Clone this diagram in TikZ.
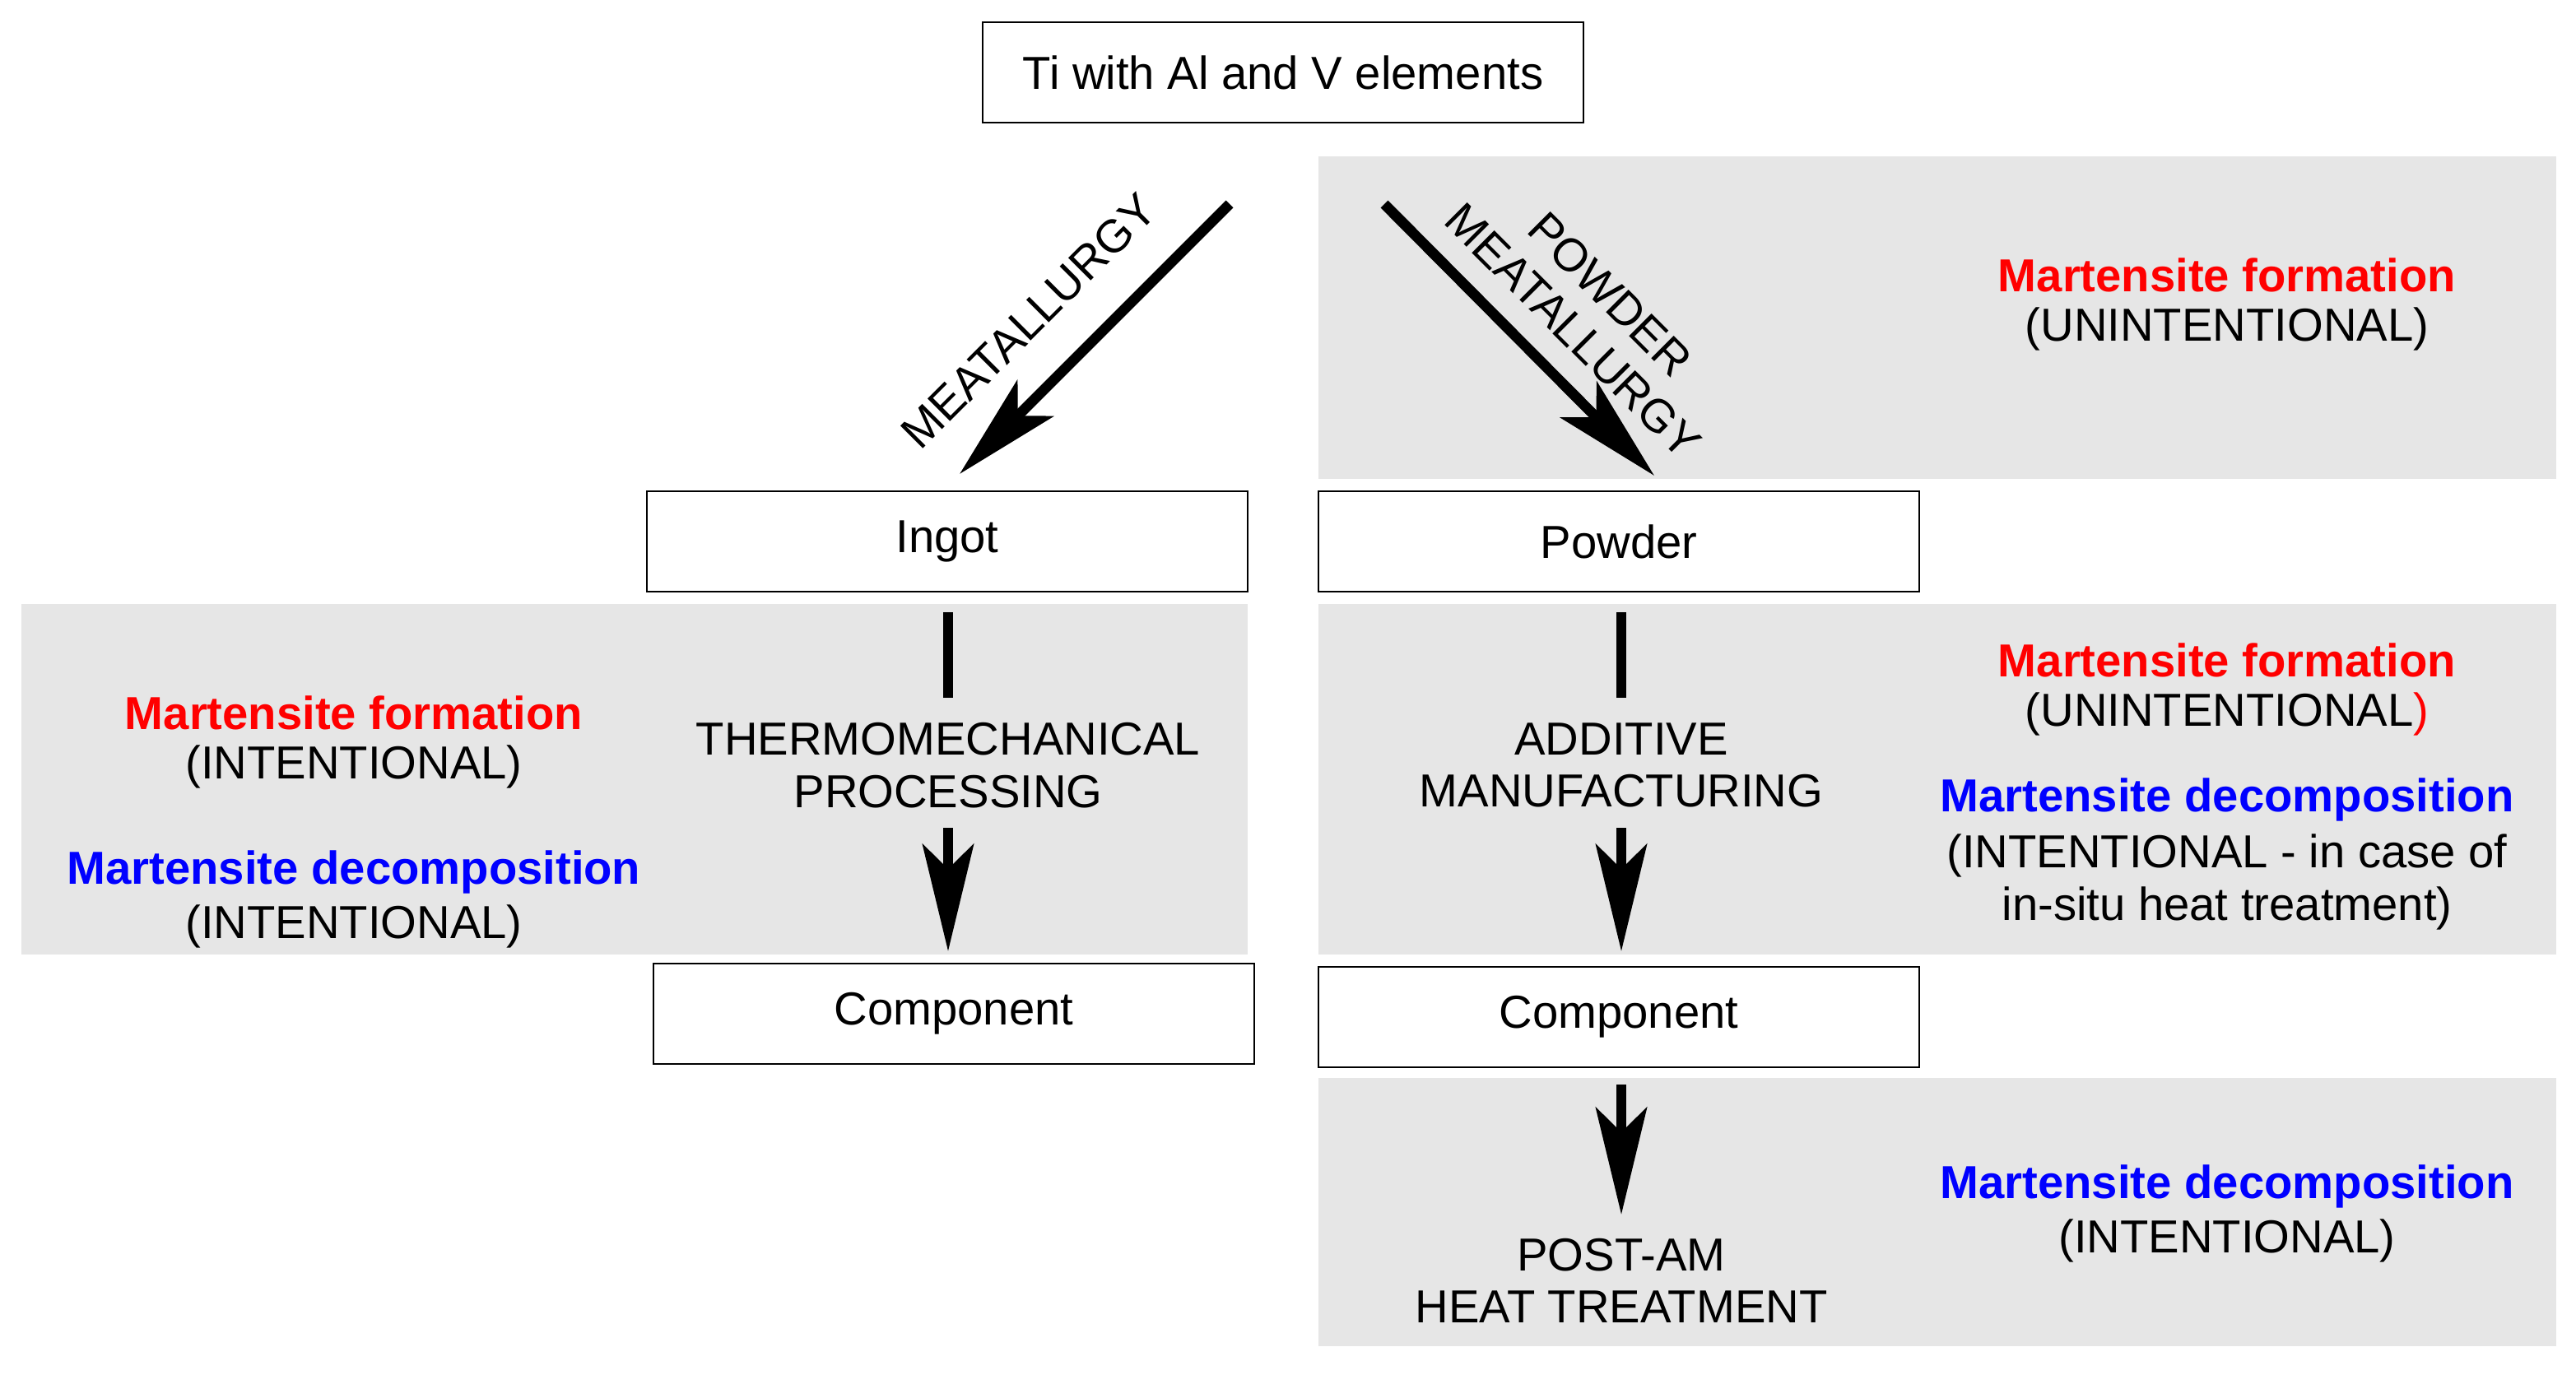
\documentclass[tikz,border=0pt]{standalone}
\usepackage{fontspec}
\setmainfont{Liberation Sans}
\usetikzlibrary{arrows.meta, positioning}

\definecolor{panelgray}{RGB}{230,230,230}
\definecolor{mred}{RGB}{255,0,0}
\definecolor{mblue}{RGB}{0,0,255}

\tikzset{
  stage/.style={draw, thick, minimum width=7.3cm, minimum height=1.22cm, font=\fontsize{16}{19}\selectfont},
  panel/.style={fill=panelgray},
  proc/.style={align=center, font=\fontsize{16}{18}\selectfont},
  note/.style={align=center, font=\fontsize{16}{18}\selectfont},
  formation/.style={text=mred, font=\fontsize{16}{18}\selectfont\bfseries},
  decomp/.style={text=mblue, font=\fontsize{16}{18}\selectfont\bfseries},
  flow/.style={line width=3.6pt, -{Stealth[length=1.3cm, width=0.62cm, inset=0.3cm]}},
  stub/.style={line width=3.6pt}
}

\begin{document}
\begin{tikzpicture}[x=0.2mm, y=-0.2mm]
  \useasboundingbox (0,0) rectangle (1565,835);

  % shaded panels
  \fill[panel] (801,95) rectangle (1553,291);
  \fill[panel] (13,367) rectangle (758,580);
  \fill[panel] (801,367) rectangle (1553,580);
  \fill[panel] (801,655) rectangle (1553,818);

  % boxes
  \node[stage] (alloy) at (779.5,44) {Ti with Al and V elements};
  \node[stage] (ingot) at (575.5,329) {Ingot};
  \node[stage] (powder) at (983.5,329) {Powder};
  \node[stage] (compL) at (579.5,616) {Component};
  \node[stage] (compR) at (983.5,618) {Component};

  % routes from the alloy
  \coordinate (ingotSrc) at (747,124);
  \coordinate (ingotIn) at (583,288);
  \coordinate (powderSrc) at (841,124);
  \coordinate (powderIn) at (1005,289);
  \draw[flow] (ingotSrc) -- (ingotIn);
  \draw[flow] (powderSrc) -- (powderIn);
  \node[proc, rotate=45] (ingotLbl) at (625,195) {MEATALLURGY};
  \node[proc, rotate=-45] (powderLbl) at (967,190) {POWDER\\MEATALLURGY};

  % thermomechanical route
  \node[proc] (thermo) at (576,465) {THERMOMECHANICAL\\PROCESSING};
  \draw[stub] (576,372) -- (576,424);
  \draw[flow] (576,503) -- (576,578);

  % additive route
  \node[proc] (additive) at (985,465) {ADDITIVE\\MANUFACTURING};
  \draw[stub] (985,372) -- (985,424);
  \draw[flow] (985,503) -- (985,578);

  % post treatment
  \node[proc] (post) at (985,778) {POST-AM\\HEAT TREATMENT};
  \draw[flow] (985,659) -- (985,738);

  % martensite notes
  \node[formation] (f1) at (1353,167) {Martensite formation};
  \node[note] (f1n) at (1353,200) {(UNINTENTIONAL)};
  \node[formation] (f2) at (215,433) {Martensite formation};
  \node[note] (f2n) at (215,466) {(INTENTIONAL)};
  \node[decomp] (d2) at (215,530) {Martensite decomposition};
  \node[note] (d2n) at (215,563) {(INTENTIONAL)};
  \node[formation] (f3) at (1353,401) {Martensite formation};
  \node[note] (f3n) at (1353,434) {(UNINTENTIONAL\textcolor{mred}{)}};
  \node[decomp] (d3) at (1353,486) {Martensite decomposition};
  \node[note] (d3n) at (1353,536) {(INTENTIONAL - in case of\\in-situ heat treatment)};
  \node[decomp] (d4) at (1353,721) {Martensite decomposition};
  \node[note] (d4n) at (1353,754) {(INTENTIONAL)};
\end{tikzpicture}
\end{document}
